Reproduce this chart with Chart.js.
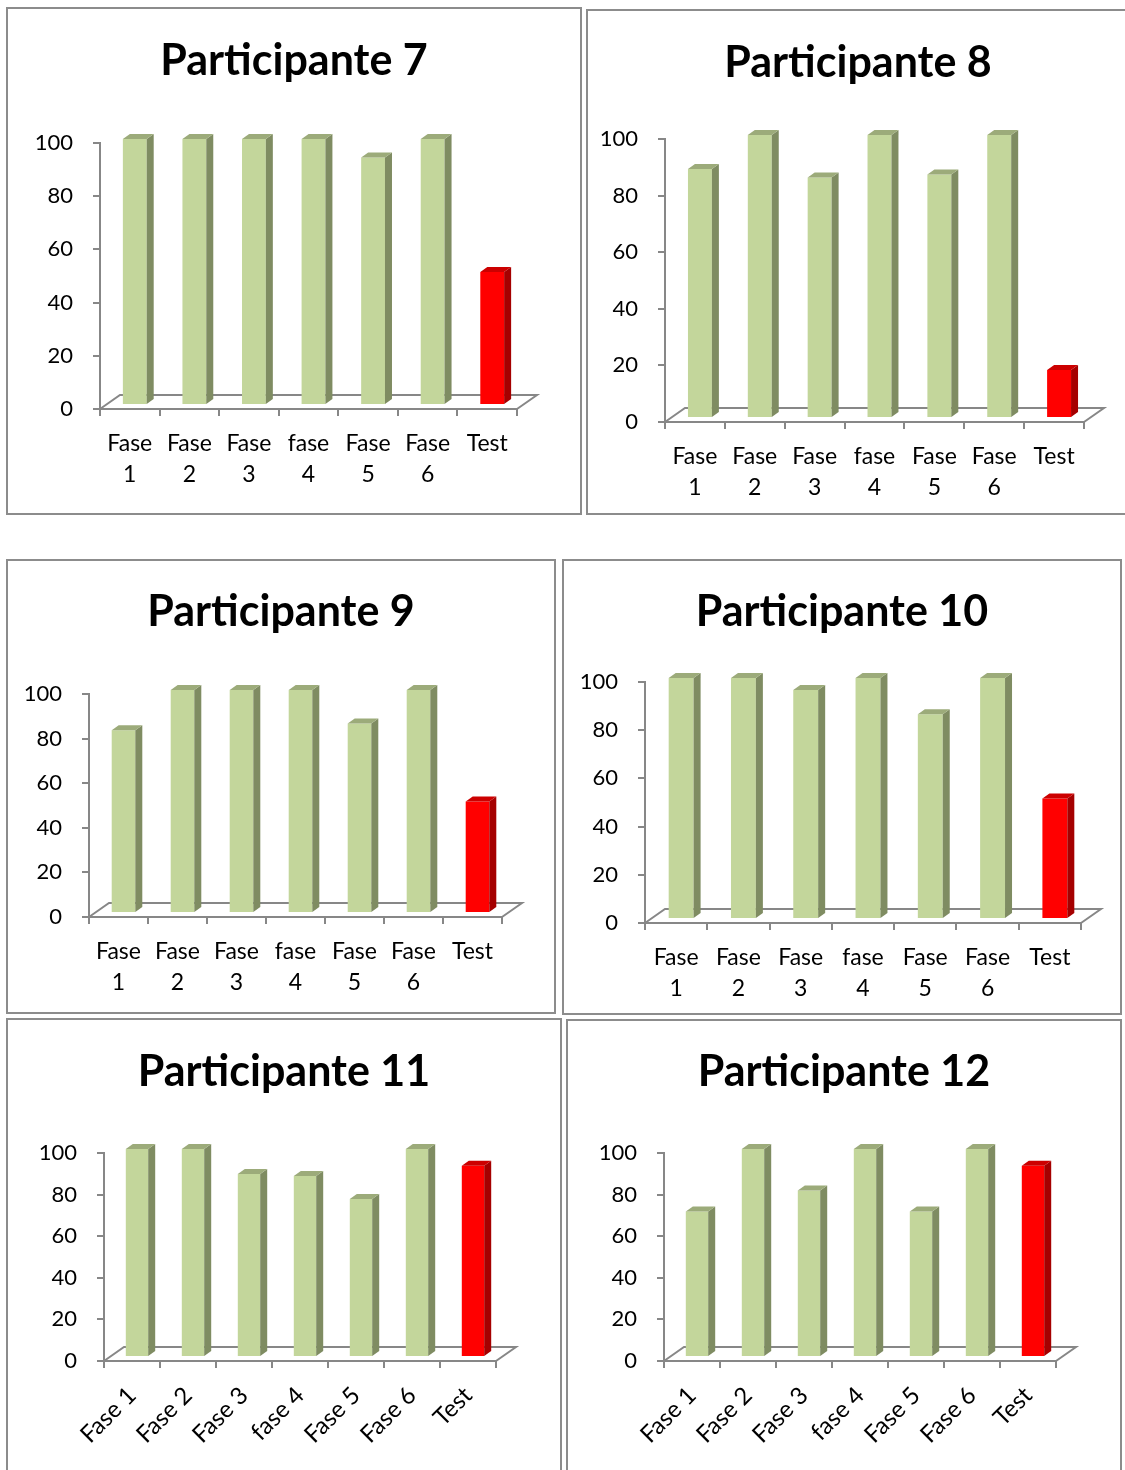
<!DOCTYPE html>
<html>
<head>
<meta charset="utf-8">
<script src="https://cdn.jsdelivr.net/npm/chart.js@4.4.1/dist/chart.umd.min.js"></script>
<style>
    html, body {
        margin: 0;
        padding: 0;
        background: #ffffff;
        width: 1125px;
        height: 1470px;
        overflow: hidden;
        position: relative;
    }
    .panel {
        position: absolute;
        box-sizing: border-box;
        border: 2px solid #8c8c8c;
        background: #ffffff;
        overflow: hidden;
    }
    .panel canvas {
        display: block;
    }
</style>
</head>
<body>

<div class="panel" id="p7"><canvas></canvas></div>
<div class="panel" id="p8"><canvas></canvas></div>
<div class="panel" id="p9"><canvas></canvas></div>
<div class="panel" id="p10"><canvas></canvas></div>
<div class="panel" id="p11"><canvas></canvas></div>
<div class="panel" id="p12"><canvas></canvas></div>

<script>
// DATA

const categories = [["Fase", "1"], ["Fase", "2"], ["Fase", "3"], ["fase", "4"], ["Fase", "5"], ["Fase", "6"], "Test"];
const categoriesRotated = ["Fase 1", "Fase 2", "Fase 3", "fase 4", "Fase 5", "Fase 6", "Test"];
const yTicks = [0, 20, 40, 60, 80, 100];

const titles = ["Participante 7", "Participante 8", "Participante 9", "Participante 10", "Participante 11", "Participante 12"];

const participante7 = [100, 100, 100, 100, 93, 100, 50];
const participante8 = [88, 100, 85, 100, 86, 100, 17];
const participante9 = [82, 100, 100, 100, 85, 100, 50];
const participante10 = [100, 100, 95, 100, 85, 100, 50];
const participante11 = [100, 100, 88, 87, 76, 100, 92];
const participante12 = [70, 100, 80, 100, 70, 100, 92];

// LAYOUT (page pixels)

const panels = [
    { id: "p7", box: [6, 7, 576, 508], axisX: 100, xEnd: 517, y100: 143, y0: 409, titleY: 61, rotate: false, values: participante7 },
    { id: "p8", box: [586, 9, 544, 506], axisX: 665, xEnd: 1084, y100: 139, y0: 422, titleY: 63, rotate: false, values: participante8 },
    { id: "p9", box: [6, 559, 550, 455], axisX: 89, xEnd: 502, y100: 694, y0: 917, titleY: 612, rotate: false, values: participante9 },
    { id: "p10", box: [562, 559, 560, 456], axisX: 645, xEnd: 1081, y100: 682, y0: 923, titleY: 612, rotate: false, values: participante10 },
    { id: "p11", box: [6, 1018, 556, 462], axisX: 104, xEnd: 496, y100: 1153, y0: 1361, titleY: 1072, rotate: true, values: participante11 },
    { id: "p12", box: [566, 1019, 556, 461], axisX: 664, xEnd: 1056, y100: 1153, y0: 1361, titleY: 1072, rotate: true, values: participante12 },
];

const BORDER = 2;
const AXIS_COLOR = "#878787";
const FONT = "Lato";

const green = { front: "#c3d69b", side: "#7f8c62", top: "#9cab7a" };
const red = { front: "#ff0000", side: "#a50000", top: "#cc0000" };

// PLUGINS

// floor of the 3d plot + side/top faces of the bars
const depth3d = {
    id: "depth3d",
    beforeDatasetsDraw(chart, args, opts) {
        const { ctx, chartArea, scales } = chart;
        const y0 = scales.y.getPixelForValue(0);
        ctx.save();
        ctx.strokeStyle = AXIS_COLOR;
        ctx.lineWidth = 2;
        ctx.beginPath();
        ctx.moveTo(chartArea.left, y0);
        ctx.lineTo(chartArea.left + opts.floorDx, y0 + opts.floorDy);
        ctx.lineTo(chartArea.right + opts.floorDx, y0 + opts.floorDy);
        ctx.lineTo(chartArea.right, y0);
        ctx.stroke();
        ctx.restore();

        // bars stand in the middle of the floor depth
        ctx.save();
        ctx.translate(opts.shiftX, opts.shiftY);
    },
    afterDatasetsDraw(chart, args, opts) {
        const ctx = chart.ctx;
        const meta = chart.getDatasetMeta(0);
        meta.data.forEach((bar, i) => {
            const p = bar.getProps(["x", "y", "base", "width"], true);
            const left = p.x - p.width / 2;
            const right = p.x + p.width / 2;
            const c = i === categories.length - 1 ? red : green;

            ctx.fillStyle = c.side;
            ctx.beginPath();
            ctx.moveTo(right, p.base);
            ctx.lineTo(right + opts.barDx, p.base + opts.barDy);
            ctx.lineTo(right + opts.barDx, p.y + opts.barDy);
            ctx.lineTo(right, p.y);
            ctx.closePath();
            ctx.fill();

            ctx.fillStyle = c.top;
            ctx.beginPath();
            ctx.moveTo(left, p.y);
            ctx.lineTo(left + opts.barDx, p.y + opts.barDy);
            ctx.lineTo(right + opts.barDx, p.y + opts.barDy);
            ctx.lineTo(right, p.y);
            ctx.closePath();
            ctx.fill();
        });
        ctx.restore();
    }
};

// FUNCTIONS

function drawPanel(panel, title) {
    const [left, top, width, height] = panel.box;
    const div = document.getElementById(panel.id);
    div.style.left = left + "px";
    div.style.top = top + "px";
    div.style.width = width + "px";
    div.style.height = height + "px";

    const innerLeft = left + BORDER;
    const innerTop = top + BORDER;
    const w = width - 2 * BORDER;
    const h = height - 2 * BORDER;

    const canvas = div.querySelector("canvas");
    canvas.width = w;
    canvas.height = h;
    canvas.style.width = w + "px";
    canvas.style.height = h + "px";

    const titleSize = 43;
    const titleLine = titleSize * 1.2;
    const titlePadTop = panel.titleY - innerTop - titleLine / 2;
    const titlePadBottom = (panel.y100 - innerTop) - titlePadTop - titleLine;
    const rightSpace = w - (panel.xEnd - innerLeft);

    new Chart(canvas, {
        type: "bar",
        plugins: [depth3d],
        data: {
            labels: panel.rotate ? categoriesRotated : categories,
            datasets: [{
                data: panel.values,
                backgroundColor: categories.map((c, i) => i === categories.length - 1 ? red.front : green.front),
                borderWidth: 0,
                barPercentage: 0.4,
                categoryPercentage: 1,
                clip: false,
            }]
        },
        options: {
            responsive: false,
            animation: false,
            events: [],
            layout: {
                padding: 0
            },
            scales: {
                x: {
                    offset: true,
                    grid: {
                        offset: true,
                        drawOnChartArea: false,
                        drawTicks: true,
                        tickLength: 7,
                        color: AXIS_COLOR,
                        lineWidth: 2,
                    },
                    border: { display: true, color: AXIS_COLOR, width: 2 },
                    ticks: {
                        autoSkip: false,
                        maxRotation: panel.rotate ? 45 : 0,
                        minRotation: panel.rotate ? 45 : 0,
                        padding: panel.rotate ? 12 : 12,
                        color: "#000000",
                        font: { family: FONT, size: panel.rotate ? 24 : 23, lineHeight: 1.35 },
                    },
                    afterFit: scale => { scale.height = h - (panel.y0 - innerTop); },
                },
                y: {
                    min: 0,
                    max: 100,
                    afterBuildTicks: scale => { scale.ticks = yTicks.map(v => ({ value: v })); },
                    grid: {
                        drawOnChartArea: false,
                        drawTicks: true,
                        tickLength: 7,
                        color: AXIS_COLOR,
                        lineWidth: 2,
                    },
                    border: { display: true, color: AXIS_COLOR, width: 2 },
                    ticks: {
                        padding: 20,
                        color: "#000000",
                        font: { family: FONT, size: 22 },
                    },
                    afterFit: scale => { scale.width = panel.axisX - innerLeft; },
                },
                // empty box on the right so the chart area ends where the floor ends
                spacer: {
                    type: "linear",
                    position: "right",
                    display: true,
                    grid: { display: false },
                    border: { display: false },
                    ticks: { display: false },
                    afterFit: scale => { scale.width = rightSpace; },
                }
            },
            plugins: {
                legend: { display: false },
                tooltip: { enabled: false },
                title: {
                    display: true,
                    text: title,
                    color: "#000000",
                    font: { family: FONT, size: titleSize, weight: "bold", lineHeight: 1.2 },
                    padding: { top: titlePadTop, bottom: titlePadBottom },
                },
                depth3d: {
                    floorDx: 20,
                    floorDy: -14,
                    barDx: 7,
                    barDy: -5,
                    shiftX: 5,
                    shiftY: -4,
                }
            }
        }
    });
}

panels.forEach((panel, i) => drawPanel(panel, titles[i]));
</script>
</body>
</html>
